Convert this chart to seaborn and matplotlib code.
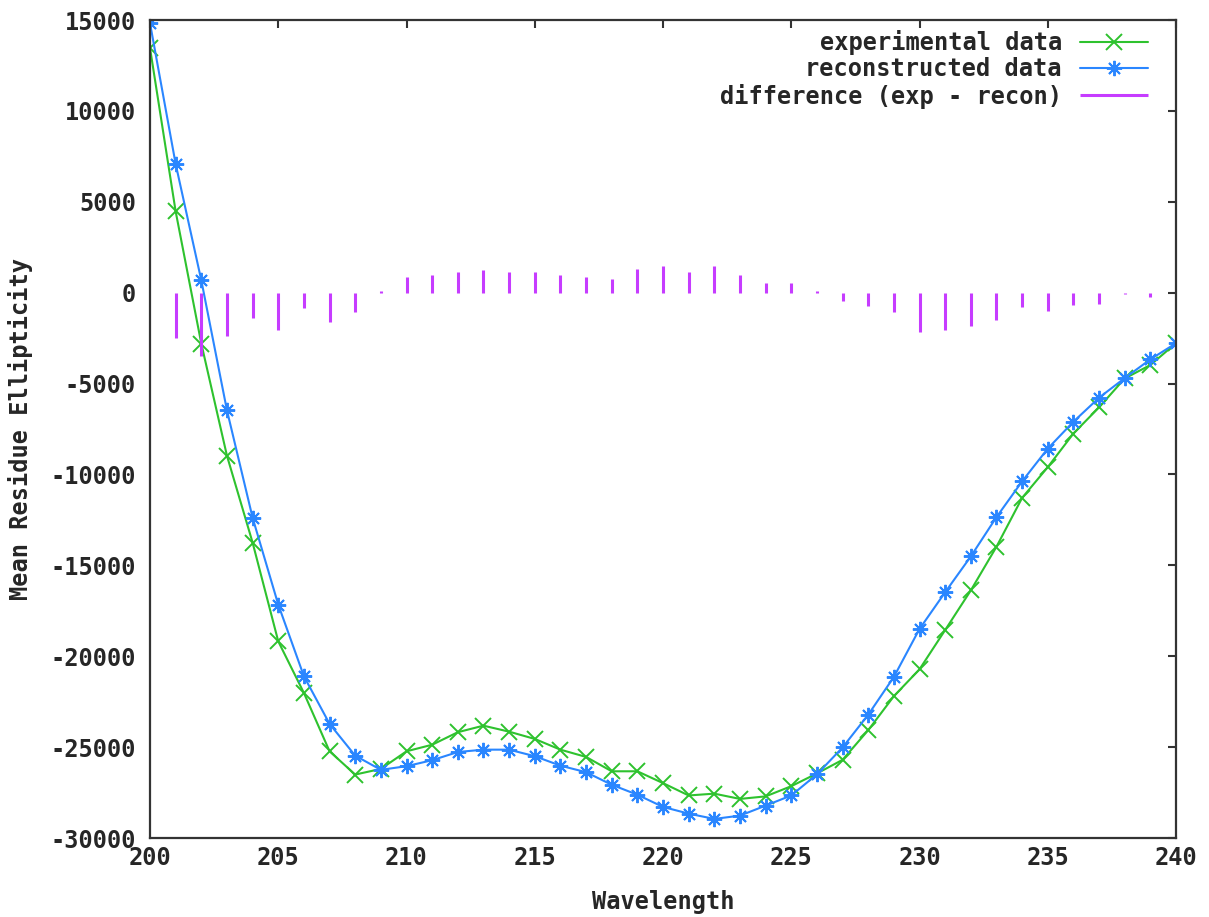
import matplotlib
matplotlib.use("Agg")
import matplotlib.pyplot as plt
import seaborn as sns
import pandas as pd

wavelength = [200, 201, 202, 203, 204, 205, 206, 207, 208, 209,
              210, 211, 212, 213, 214, 215, 216, 217, 218, 219,
              220, 221, 222, 223, 224, 225, 226, 227, 228, 229,
              230, 231, 232, 233, 234, 235, 236, 237, 238, 239, 240]

experimental = [13460, 4470, -2800, -8970, -13750, -19180, -22020, -25230, -26510, -26200,
                -25230, -24870, -24180, -23820, -24150, -24550, -25140, -25540, -26330, -26330,
                -26980, -27660, -27560, -27850, -27710, -27150, -26450, -25700, -24070, -22200,
                -20720, -18560, -16380, -13980, -11290, -9600, -7750, -6310, -4720, -3980, -2780]

reconstructed = [14830, 7080, 680, -6470, -12380, -17160, -21100, -23720, -25470, -26250,
                 -26050, -25720, -25270, -25140, -25140, -25500, -26020, -26380, -27070, -27620,
                 -28290, -28660, -28950, -28770, -28220, -27660, -26500, -25020, -23220, -21140,
                 -18500, -16480, -14510, -12350, -10380, -8580, -7100, -5780, -4700, -3670, -2780]

difference = [0, -2500, -3500, -2400, -1400, -2070, -850, -1630, -1080, 100,
              860, 990, 1120, 1230, 1120, 1120, 990, 860, 750, 1320,
              1450, 1120, 1450, 990, 530, 530, 100, -480, -715, -1060,
              -2180, -2070, -1850, -1490, -810, -1030, -700, -600, -50, -250, 0]

x_ticks = [200, 205, 210, 215, 220, 225, 230, 235, 240]
y_ticks = [-30000, -25000, -20000, -15000, -10000, -5000, 0, 5000, 10000, 15000]

labels = ["experimental data", "reconstructed data", "difference (exp - recon)"]
colors = ["#2ec22e", "#2a86ff", "#c63cff"]

sns.set_style("white")
plt.rcParams["font.family"] = ["DejaVu Sans Mono", "DejaVu Sans"]
plt.rcParams["font.weight"] = "bold"
FS = 17

fig = plt.figure(figsize=(12.09, 9.17), dpi=100)
ax = fig.add_axes([150 / 1209, 1 - 838 / 917, 1026 / 1209, 818 / 917])

df = pd.DataFrame({"w": wavelength, "exp": experimental, "rec": reconstructed})

sns.lineplot(data=df, x="w", y="exp", ax=ax, color=colors[0], linewidth=1.5,
             marker="x", markersize=11, markeredgewidth=1.4,
             markeredgecolor=colors[0], label=labels[0], zorder=3)
sns.lineplot(data=df, x="w", y="rec", ax=ax, color=colors[1], linewidth=1.5,
             marker=(8, 2, 0), markersize=11, markeredgewidth=1.4,
             markeredgecolor=colors[1], label=labels[1], zorder=4)
ax.vlines(wavelength, 0, difference, colors=colors[2], linewidth=2.2,
          label=labels[2], zorder=5)

ax.set_xlim(200, 240)
ax.set_ylim(-30000, 15000)
ax.set_xticks(x_ticks)
ax.set_yticks(y_ticks)
ax.set_xticklabels([str(v) for v in x_ticks], fontsize=FS, fontweight="bold")
ax.set_yticklabels([str(v) for v in y_ticks], fontsize=FS, fontweight="bold")
ax.tick_params(axis="both", direction="in", length=6, width=1.5, color="#333333",
               top=True, right=True)
ax.tick_params(axis="y", pad=10)
ax.tick_params(axis="x", pad=6)

for s in ax.spines.values():
    s.set_visible(True)
    s.set_linewidth(1.6)
    s.set_color("#333333")
    s.set_zorder(10)

ax.set_xlabel("Wavelength", fontsize=FS, fontweight="bold", labelpad=14)
ax.set_ylabel("Mean Residue Ellipticity", fontsize=FS, fontweight="bold")
ax.yaxis.set_label_coords(-(150 - 33) / 1026, 0.5)

leg = ax.legend(loc="upper right", bbox_to_anchor=(998 / 1026, 1 - 10 / 818),
                frameon=False, markerfirst=False, borderpad=0, borderaxespad=0,
                handlelength=2.9, handletextpad=0.75, labelspacing=0.1,
                prop={"family": "DejaVu Sans Mono", "weight": "bold", "size": FS})

fig.savefig("out.png", dpi=100)
